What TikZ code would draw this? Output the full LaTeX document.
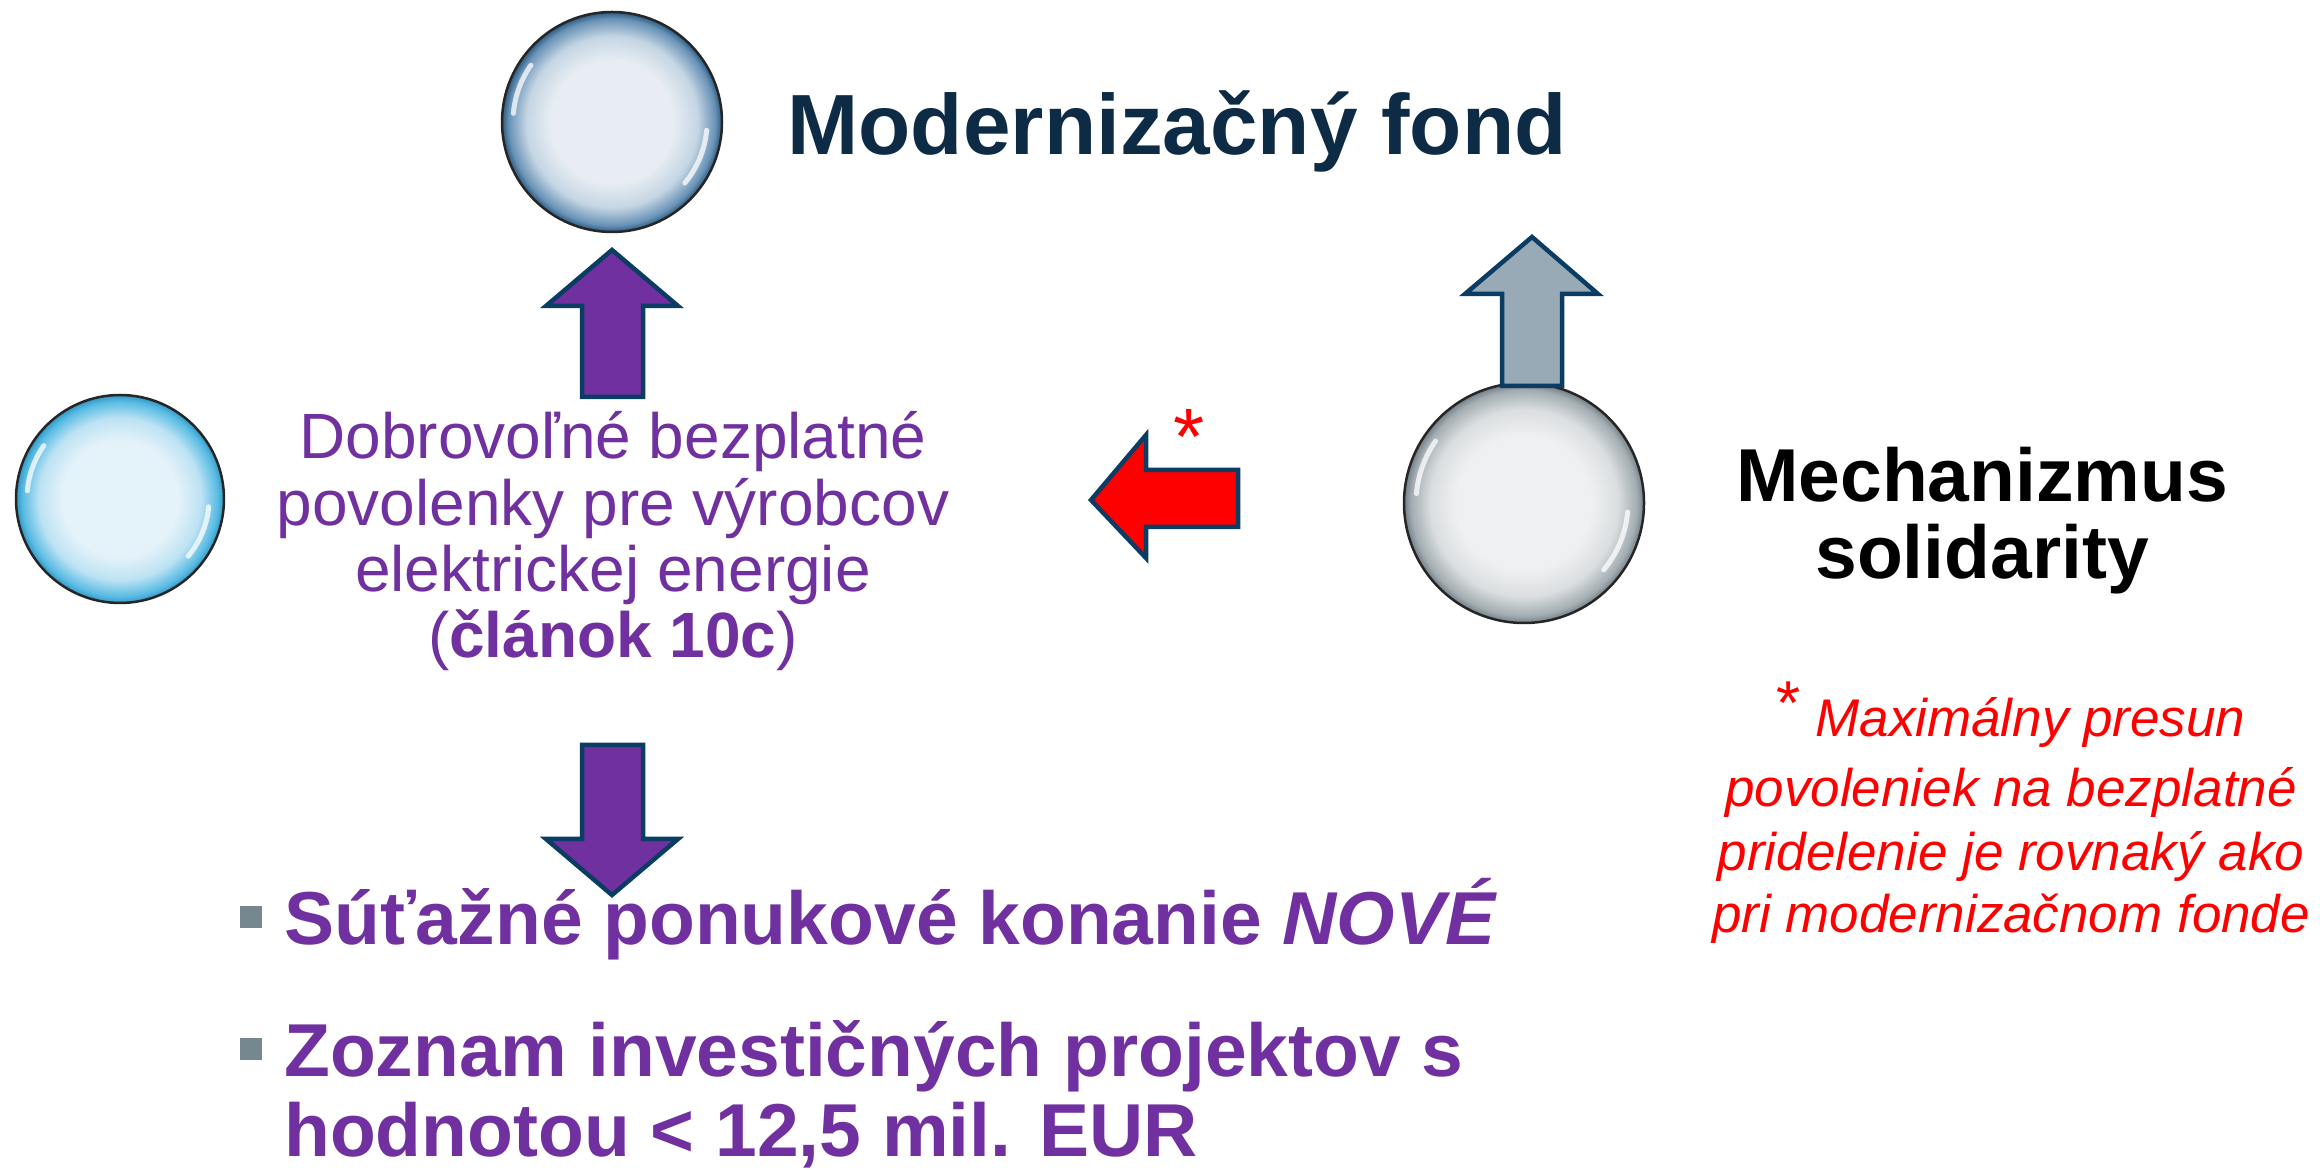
\documentclass[tikz,border=0pt]{standalone}
\usepackage{fontspec}
\setmainfont{Liberation Sans}
\definecolor{navy}{HTML}{0D2B45}
\definecolor{purp}{HTML}{7030A0}
\definecolor{edgeblue}{HTML}{0B3C63}
\definecolor{bulletgray}{HTML}{76888F}
\definecolor{arrowgray}{HTML}{97AAB5}
\definecolor{tA}{HTML}{E7EDF2}\definecolor{tB}{HTML}{C4D5E3}\definecolor{tC}{HTML}{6892B6}\definecolor{tD}{HTML}{2C5A80}
\definecolor{lA}{HTML}{E4F2F9}\definecolor{lB}{HTML}{BCE2F3}\definecolor{lC}{HTML}{58BBE3}\definecolor{lD}{HTML}{3196C4}
\definecolor{rA}{HTML}{EFF0F1}\definecolor{rB}{HTML}{DADEE0}\definecolor{rC}{HTML}{A3ADB2}\definecolor{rD}{HTML}{737F87}
\pgfdeclareradialshading{sphT}{\pgfpoint{0bp}{0bp}}{color(0bp)=(tA); color(14bp)=(tA); color(19.5bp)=(tB); color(23.5bp)=(tC); color(25bp)=(tD); color(50bp)=(tD)}
\pgfdeclareradialshading{sphL}{\pgfpoint{0bp}{0bp}}{color(0bp)=(lA); color(14bp)=(lA); color(19.5bp)=(lB); color(23.5bp)=(lC); color(25bp)=(lD); color(50bp)=(lD)}
\pgfdeclareradialshading{sphR}{\pgfpoint{0bp}{0bp}}{color(0bp)=(rA); color(14bp)=(rA); color(19.5bp)=(rB); color(23.5bp)=(rC); color(25bp)=(rD); color(50bp)=(rD)}
\tikzset{
  sphere/.style={circle, draw=black!85, line width=2.5pt, inner sep=0pt, minimum size=#1, shade},
  hl/.style={white, opacity=0.75, line width=5pt, line cap=round},
  fatarrow/.style={draw=edgeblue, line width=4.5pt, line join=miter},
  titletxt/.style={inner sep=0pt, anchor=base, text=navy, font=\fontsize{85.5}{85.5}\selectfont\bfseries},
  mechtxt/.style={inner sep=0pt, anchor=base, text=black, font=\fontsize{75}{75}\selectfont\bfseries},
  purptxt/.style={inner sep=0pt, anchor=base, text=purp, font=\fontsize{64}{64}\selectfont},
  bultxt/.style={inner sep=0pt, anchor=base west, text=purp, font=\fontsize{75}{75}\selectfont\bfseries},
  redtxt/.style={inner sep=0pt, anchor=base, text=red, font=\fontsize{53}{53}\selectfont\itshape},
  bulsq/.style={fill=bulletgray, draw=none}
}
\begin{document}
\begin{tikzpicture}[x=1pt,y=1pt]
\useasboundingbox (0,0) rectangle (2320,1172);
% spheres
\node[sphere=220, shading=sphT] (topS) at (612,1050) {};
\node[sphere=208, shading=sphL] (leftS) at (120,673) {};
\node[sphere=240, shading=sphR] (rightS) at (1524,669) {};
\draw[hl] (topS.center) ++(145:99) arc[start angle=145, end angle=175, radius=99];
\draw[hl] (topS.center) ++(-40:95) arc[start angle=-40, end angle=-5, radius=95];
\draw[hl] (leftS.center) ++(145:93) arc[start angle=145, end angle=175, radius=93];
\draw[hl] (leftS.center) ++(-40:89) arc[start angle=-40, end angle=-5, radius=89];
\draw[hl] (rightS.center) ++(145:108) arc[start angle=145, end angle=175, radius=108];
\draw[hl] (rightS.center) ++(-40:104) arc[start angle=-40, end angle=-5, radius=104];
% arrows
\draw[fatarrow, fill=purp] (612,922) -- (678,866) -- (643,866) -- (643,775) -- (582,775) -- (582,866) -- (546,866) -- cycle;
\draw[fatarrow, fill=purp] (612,277) -- (678,333) -- (643,333) -- (643,427) -- (582,427) -- (582,333) -- (546,333) -- cycle;
\draw[fatarrow, fill=arrowgray] (1532,935) -- (1598,878) -- (1562,878) -- (1562,786) -- (1502,786) -- (1502,878) -- (1465,878) -- cycle;
\draw[fatarrow, fill=red] (1091,672) -- (1146,737) -- (1146,702) -- (1238,702) -- (1238,645) -- (1146,645) -- (1146,614) -- cycle;
% texts
\node[titletxt] (title) at (1177,1017) {Modernizačný fond};
\node[mechtxt] (mech1) at (1982,670) {Mechanizmus};
\node[mechtxt] (mech2) at (1982,593) {solidarity};
\node[purptxt] (p1) at (613,713) {Dobrovoľné bezplatné};
\node[purptxt] (p2) at (613,646) {povolenky pre výrobcov};
\node[purptxt] (p3) at (613,580) {elektrickej energie};
\node[purptxt] (p4) at (613,514) {(\textbf{článok 10c})};
\node[inner sep=0pt, anchor=base, text=red, font=\fontsize{80}{80}\selectfont] (ast) at (1189,707) {*};
\fill[bulsq] (240,244) rectangle (262,266);
\fill[bulsq] (240,112) rectangle (262,134);
\node[bultxt] (b1) at (284,227) {Súťažné ponukové konanie \textit{NOVÉ}};
\node[bultxt] (b2) at (284,95) {Zoznam investičných projektov s};
\node[bultxt] (b3) at (284,16) {hodnotou < 12,5 mil. EUR};
\node[redtxt] (r1) at (2011,435) {\raisebox{12pt}{\fontsize{62}{62}\selectfont\upshape *} Maximálny presun};
\node[redtxt] (r2) at (2011,365) {povoleniek na bezplatné};
\node[redtxt] (r3) at (2011,301) {pridelenie je rovnaký ako};
\node[redtxt] (r4) at (2011,239) {pri modernizačnom fonde};
\end{tikzpicture}
\end{document}
